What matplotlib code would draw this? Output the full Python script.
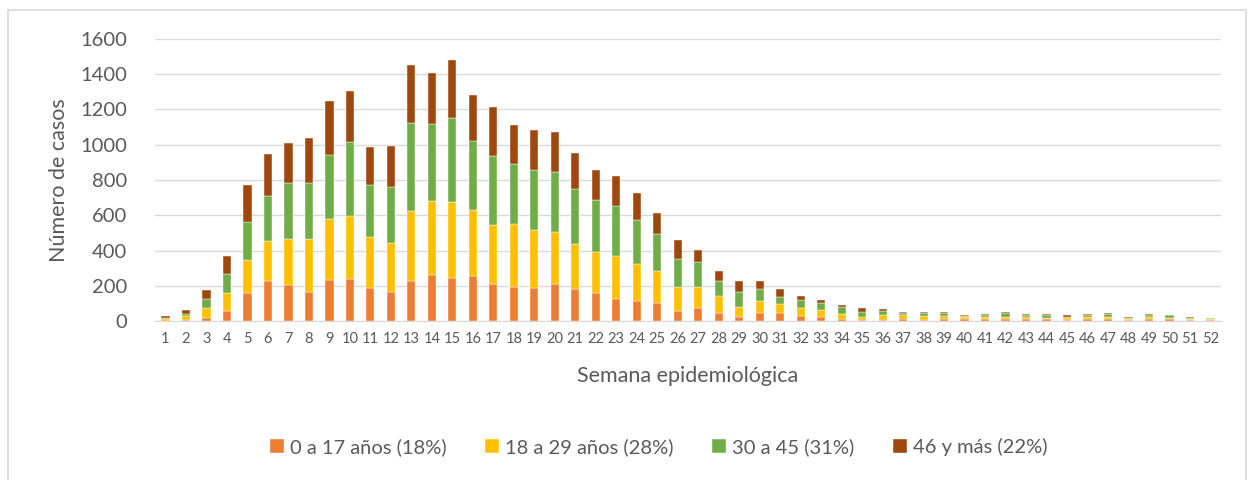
import numpy as np
import matplotlib
matplotlib.use("Agg")
import matplotlib.pyplot as plt
from matplotlib.patches import Rectangle

semanas = [str(i) for i in range(1, 53)]

edad_0_17 = [3, 9, 15, 57, 159, 225, 203, 167, 233, 241, 188, 167, 225, 261,
             246, 254, 208, 195, 188, 208, 180, 159, 123, 116, 100, 57, 72,
             44, 21, 44, 44, 29, 21, 13, 8, 8, 13, 8, 10, 13,
             12, 14, 10, 12, 8, 12, 14, 6, 14, 10, 6, 4]
edad_18_29 = [7, 19, 57, 102, 189, 229, 261, 297, 347, 354, 290, 275, 398, 419,
              428, 377, 335, 356, 328, 299, 256, 233, 246, 210, 182, 138, 123,
              101, 57, 72, 51, 44, 44, 30, 13, 29, 23, 21, 19, 8,
              12, 10, 12, 8, 12, 10, 10, 6, 10, 8, 8, 8]
edad_30_45 = [10, 15, 51, 108, 216, 256, 318, 318, 364, 420, 292, 320, 502, 437,
              479, 392, 392, 341, 341, 341, 311, 295, 282, 246, 210, 159, 138,
              80, 88, 65, 42, 44, 36, 36, 30, 21, 8, 15, 15, 8,
              10, 20, 12, 14, 6, 12, 15, 8, 10, 16, 4, 7]
edad_46_mas = [8, 21, 51, 102, 210, 240, 225, 254, 305, 290, 216, 233, 326, 290,
               326, 261, 277, 218, 225, 225, 205, 169, 174, 152, 123, 108, 72,
               59, 59, 44, 44, 23, 21, 13, 21, 8, 8, 8, 8, 8,
               8, 8, 8, 8, 8, 8, 8, 6, 8, 0, 8, 0]

series = [
    ("0 a 17 años (18%)", edad_0_17, "#ED7D31"),
    ("18 a 29 años (28%)", edad_18_29, "#FFC000"),
    ("30 a 45 (31%)", edad_30_45, "#70AD47"),
    ("46 y más (22%)", edad_46_mas, "#9E480E"),
]

GRIS = "#595959"
plt.rcParams["font.family"] = ["Lato", "DejaVu Sans"]

fig = plt.figure(figsize=(12.52, 4.8), dpi=100)
ax = fig.add_axes([0.124, 0.331, 0.851, 0.588])

x = np.arange(len(semanas))
base = np.zeros(len(semanas))
for nombre, vals, color in series:
    vals = np.array(vals, dtype=float)
    ax.bar(x, vals, 0.4, bottom=base, color=color, label=nombre,
           edgecolor="white", linewidth=0.3, zorder=3)
    base += vals

ax.set_ylim(0, 1600)
ax.set_xlim(-0.5, len(semanas) - 0.5)
ax.set_yticks(range(0, 1601, 200))
ax.set_xticks(x)
ax.set_xticklabels(semanas)
ax.grid(axis="y", color="#D9D9D9", linewidth=1, zorder=0)
for s in ["top", "right", "left"]:
    ax.spines[s].set_visible(False)
ax.spines["bottom"].set_color("#D9D9D9")
ax.tick_params(axis="y", length=0, pad=20, labelsize=14.5, labelcolor=GRIS)
ax.tick_params(axis="x", length=0, pad=8, labelsize=10.5, labelcolor=GRIS)

ax.set_ylabel("Número de casos", fontsize=15.5, color=GRIS, labelpad=8)
ax.set_xlabel("Semana epidemiológica", fontsize=15.5, color=GRIS, labelpad=14)

fig.legend(loc="center", bbox_to_anchor=(0.526, 0.069), ncol=4, frameon=False,
           fontsize=14.5, handlelength=0.7, handleheight=0.7, handletextpad=0.3,
           columnspacing=1.9, labelcolor=GRIS)

fig.patches.append(Rectangle((8 / 1252, -0.1), 1238 / 1252, 1.1 - 10 / 480,
                             transform=fig.transFigure, fill=False,
                             edgecolor="#D9D9D9", linewidth=1.2))

fig.savefig("out.png", dpi=100)
